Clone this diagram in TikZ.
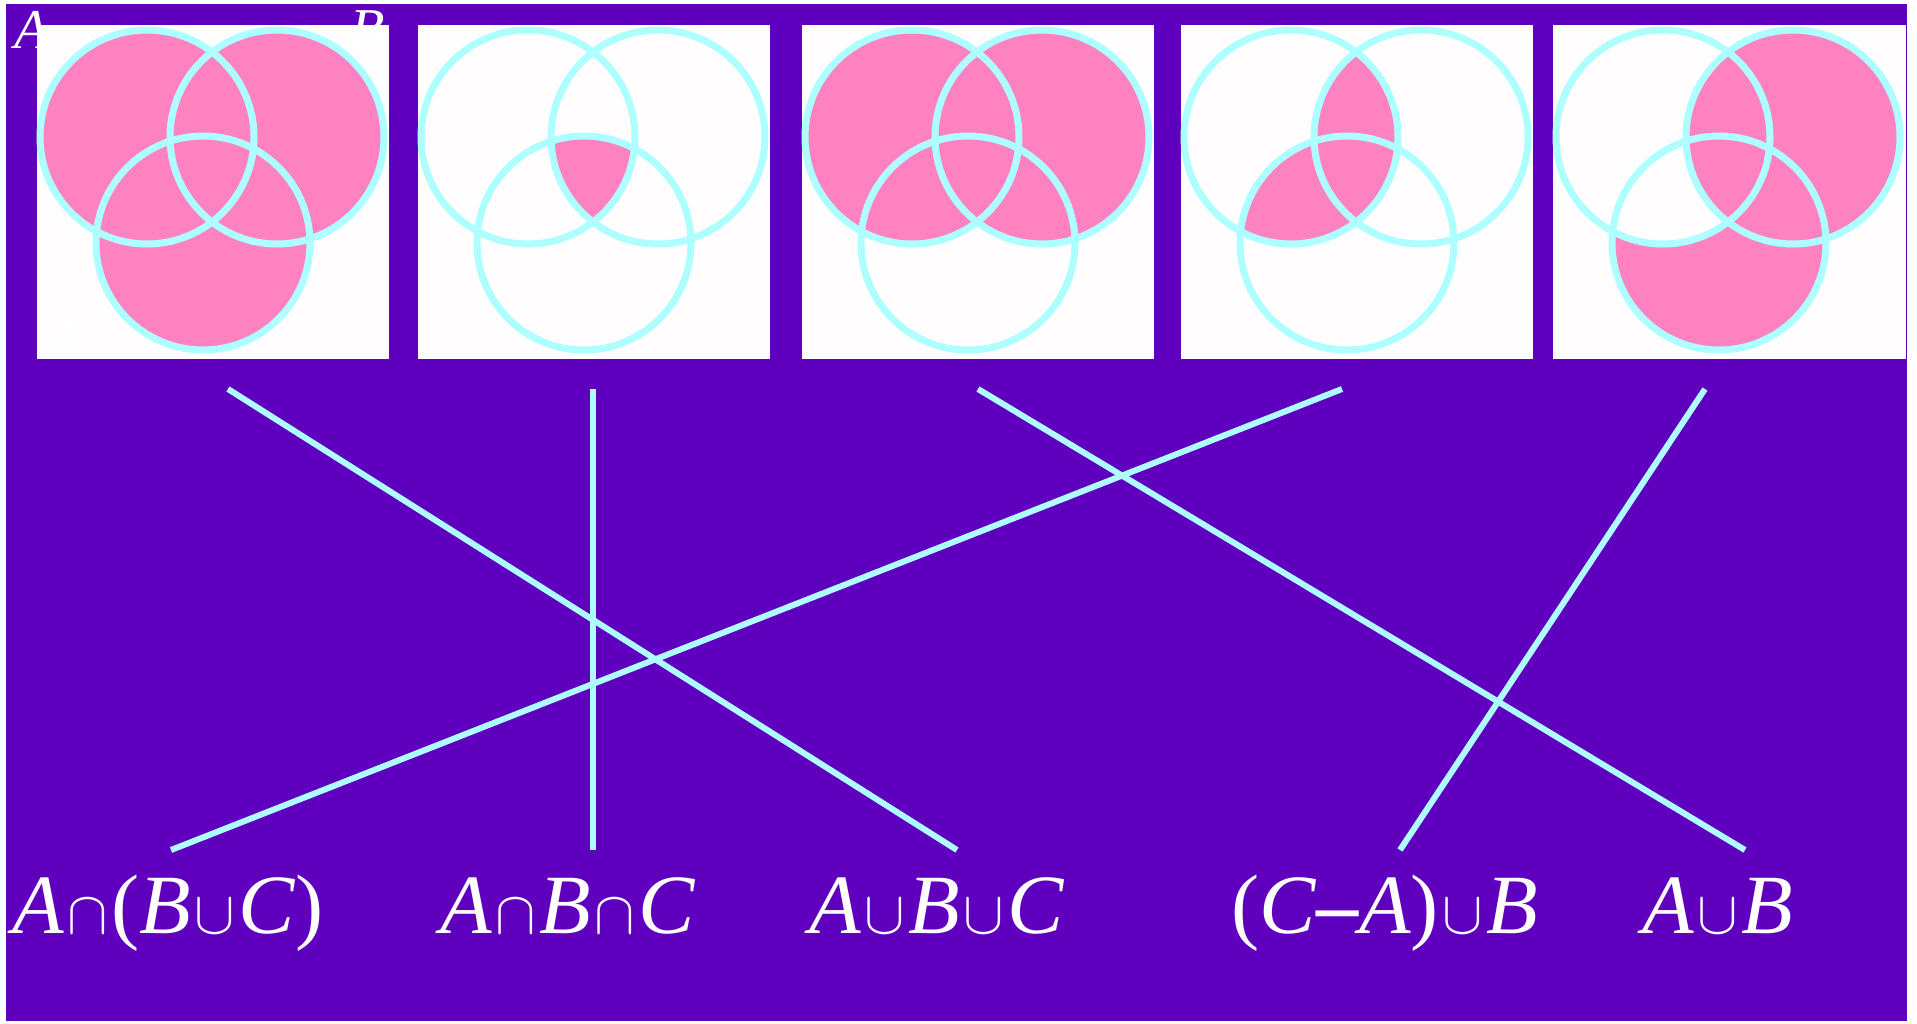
\documentclass[tikz,border=0pt]{standalone}
\usepackage{fontspec}
\setmainfont{Liberation Serif}
\usepackage{xcolor}
\usepackage{tikz}

\definecolor{bgpurple}{HTML}{5F00BF}
\definecolor{ringcyan}{HTML}{AEFFFF}
\definecolor{setpink}{HTML}{FF82C0}
\definecolor{panelwhite}{HTML}{FFFDFD}

\newcommand\ringA{(111,113) circle[radius=107]}
\newcommand\ringB{(241,113) circle[radius=107]}
\newcommand\ringC{(167,219) circle[radius=107]}
\newcommand\capop{\kern1pt{\fontsize{18.5}{18.5}\selectfont$\cap$}\kern1pt}
\newcommand\cupop{\kern1pt{\fontsize{18.5}{18.5}\selectfont$\cup$}\kern1pt}

\begin{document}
\begin{tikzpicture}[
    x=0.1mm, y=-0.1mm,
    panel/.style={rectangle, fill=panelwhite, anchor=north west, inner sep=0pt,
                  minimum width=35.2mm, minimum height=33.4mm},
    ring/.style={draw=ringcyan, line width=0.7mm},
    region/.style={fill=setpink},
    link/.style={draw=ringcyan, line width=0.6mm},
    setlbl/.style={anchor=base west, inner sep=0pt, text=white,
                   font=\fontsize{24}{24}\selectfont\itshape},
    cornerlbl/.style={anchor=base west, inner sep=0pt, text=white,
                      font=\fontsize{16}{16}\selectfont\itshape}
]
\useasboundingbox (0,0) rectangle (1917,1023);
\fill[white] (0,0) rectangle (1917,1023);
\fill[bgpurple] (6,4) rectangle (1907,1021);

% the five Venn panels
\node[panel] (p1) at (36,24) {};
\node[panel] (p2) at (417,24) {};
\node[panel] (p3) at (801,24) {};
\node[panel] (p4) at (1180,24) {};
\node[panel, minimum width=35.3mm] (p5) at (1552,24) {};

\begin{scope}[shift={(p1.north west)}]
  \fill[region] \ringA \ringB \ringC;
  \draw[ring] \ringA \ringB \ringC;
\end{scope}
\begin{scope}[shift={(p2.north west)}]
  \begin{scope}
    \clip \ringA; \clip \ringB;
    \fill[region] \ringC;
  \end{scope}
  \draw[ring] \ringA \ringB \ringC;
\end{scope}
\begin{scope}[shift={(p3.north west)}]
  \fill[region] \ringA \ringB;
  \draw[ring] \ringA \ringB \ringC;
\end{scope}
\begin{scope}[shift={(p4.north west)}]
  \begin{scope}
    \clip \ringA;
    \fill[region] \ringB \ringC;
  \end{scope}
  \draw[ring] \ringA \ringB \ringC;
\end{scope}
\begin{scope}[shift={(p5.north west)}]
  \fill[region] \ringB;
  \begin{scope}[even odd rule]
    \clip \ringA (0,0) rectangle (352,334);
    \fill[region] \ringC;
  \end{scope}
  \draw[ring] \ringA \ringB \ringC;
\end{scope}

\node[cornerlbl] (nA) at (14,48) {A};
\node[cornerlbl] (nB) at (350,47) {B};
\node[cornerlbl] (nC) at (58,353) {C};

% the five expressions
\node[setlbl] (l1) at (12,933) {A\capop\textup{(}B\cupop C\textup{)}};
\node[setlbl] (l2) at (440,933) {A\capop B\capop C};
\node[setlbl] (l3) at (809,933) {A\cupop B\cupop C};
\node[setlbl] (l4) at (1231,933) {\textup{(}C\textbf{\textup{--}}A\textup{)}\cupop B};
\node[setlbl] (l5) at (1642,933) {A\cupop B};

\coordinate (p1 tail) at (228,389);
\coordinate (p2 tail) at (593,389);
\coordinate (p3 tail) at (978,389);
\coordinate (p4 tail) at (1342,389);
\coordinate (p5 tail) at (1705,389);
\coordinate (l1 head) at (171,850);
\coordinate (l2 head) at (593,850);
\coordinate (l3 head) at (957,850);
\coordinate (l4 head) at (1400,850);
\coordinate (l5 head) at (1745,850);

\draw[link] (p1 tail) -- (l3 head);
\draw[link] (p2 tail) -- (l2 head);
\draw[link] (p3 tail) -- (l5 head);
\draw[link] (p4 tail) -- (l1 head);
\draw[link] (p5 tail) -- (l4 head);
\end{tikzpicture}
\end{document}
